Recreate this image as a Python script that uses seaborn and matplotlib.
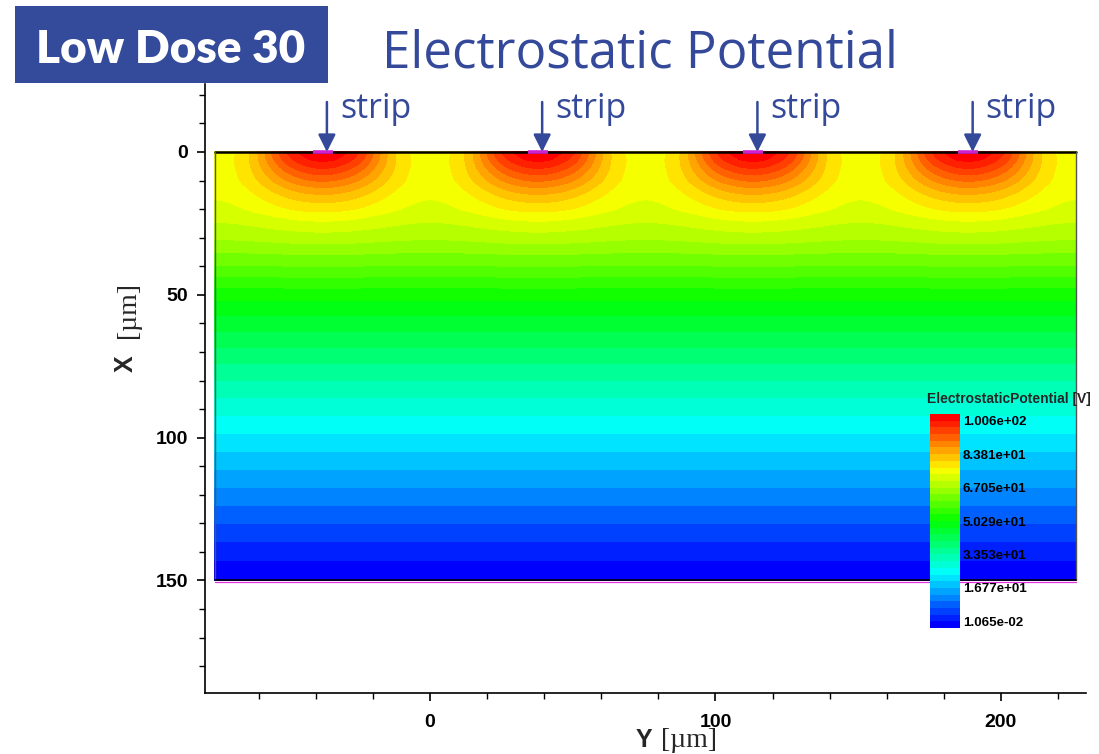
import numpy as np
import matplotlib
matplotlib.use("Agg")
import matplotlib.pyplot as plt
from matplotlib.colors import ListedColormap, BoundaryNorm
from matplotlib.patches import Rectangle
from matplotlib.ticker import MultipleLocator
import seaborn as sns

# ---------------- data ----------------
# potential along the mid-gap line between two strips, versus depth
depth_um = [0, 10, 20, 30, 40, 50, 60, 70, 80, 90, 100, 110, 120, 130, 140, 150]
midgap_potential_V = [75.0, 74.0, 71.5, 66.5, 59.5, 51.5, 45.5, 40.0, 34.5,
                      29.5, 24.5, 19.5, 14.5, 9.5, 4.5, 0.0]
# extra potential directly below a strip, relative to the mid-gap line
excess_depth_um = [0, 2.5, 5, 7.5, 10, 12.5, 15, 17.5, 20, 22.5, 25, 27.5, 30, 35, 40, 50]
strip_excess_V = [25.6, 23.8, 20.9, 17.6, 14.4, 11.4, 8.8, 6.7, 5.0, 3.6, 2.6,
                  1.8, 1.3, 0.6, 0.25, 0.0]
# lateral fall-off of that excess along the surface (fraction vs distance to strip centre)
lateral_um = [0, 4, 9, 13, 17, 20, 22.7, 26, 30, 33, 37.7]
lateral_fraction = [1.0, 0.97, 0.875, 0.754, 0.56, 0.40, 0.262, 0.12, 0.016, 0.0, 0.0]
strip_centers_um = [-37.6, 37.8, 113.2, 188.6]
strip_width_um = 7.0
strip_potential_V = 100.6
backside_potential_V = 1.065e-2
device_y_um = [-75.3, 226.3]
device_thickness_um = 150.0
legend_labels = ["1.006e+02", "8.381e+01", "6.705e+01", "5.029e+01",
                 "3.353e+01", "1.677e+01", "1.065e-02"]
legend_title = "ElectrostaticPotential [V]"
n_bands = 32
rainbow_anchors = ["#0000ff", "#00ffff", "#00ff00", "#ffff00", "#ff0000"]
x_major = [0, 100, 200]
y_major = [0, 50, 100, 150]

# ---------------- style ----------------
sns.set_style("ticks")
plt.rcParams.update({
    "font.family": ["Liberation Sans", "DejaVu Sans"],
    "axes.edgecolor": "black",
    "axes.linewidth": 1.2,
    "xtick.color": "black",
    "ytick.color": "black",
})
INK = "#34499a"
BADGE = "#344b9b"
W, H = 1099, 754


def fx(px):
    return px / W


def fy(py):
    return 1 - py / H


# ---------------- potential field ----------------
pitch = np.diff(strip_centers_um).mean()
q = 2 * np.pi / pitch
yy = np.linspace(device_y_um[0], device_y_um[1], 1400)
xx = np.linspace(0, device_thickness_um, 760)
Y, X = np.meshgrid(yy, xx)
# distance to the nearest strip centre (periodic arrangement)
d = np.abs(np.mod(Y - strip_centers_um[0] + pitch / 2, pitch) - pitch / 2)
surface_shape = np.interp(d, lateral_um, lateral_fraction)
smooth_shape = 0.5 * (1 + np.cos(q * d))
w = np.exp(-X / 8.0)  # sharp lateral shape near the surface, smoother deeper down
shape = w * surface_shape + (1 - w) * smooth_shape
V = (np.interp(X, depth_um, midgap_potential_V)
     + np.interp(X, excess_depth_um, strip_excess_V) * shape)
levels = np.linspace(backside_potential_V, strip_potential_V, n_bands + 1)
V = np.clip(V, levels[0], levels[-1] - 1e-6)
palette = sns.blend_palette(rainbow_anchors, n_colors=n_bands)
cmap = ListedColormap(palette)
norm = BoundaryNorm(levels, n_bands)

# ---------------- figure ----------------
fig = plt.figure(figsize=(W / 100, H / 100), dpi=100)
ax = fig.add_axes([fx(205), fy(693), fx(1086) - fx(205), fy(84) - fy(693)])
ax.contourf(Y, X, V, levels=levels, cmap=cmap, norm=norm, antialiased=False, zorder=1)

y0, y1 = device_y_um
ax.plot([y0, y1], [0, 0], color="black", lw=1.8, zorder=3)
ax.plot([y0, y0], [0, device_thickness_um], color="#555555", lw=1.0, zorder=3)
ax.plot([y1, y1], [0, device_thickness_um], color="#555555", lw=1.0, zorder=3)
ax.plot([y0, y1], [device_thickness_um] * 2, color="black", lw=1.2, zorder=3)
ax.plot([y0, y1], [device_thickness_um + 0.45] * 2, color="#e030e0", lw=0.9, zorder=3)
for s in strip_centers_um:
    ax.plot([s - strip_width_um / 2, s + strip_width_um / 2], [0, 0],
            color="#d020d0", lw=2.6, solid_capstyle="butt", zorder=4)
    ax.annotate("", xy=(s + 1.5, 0), xytext=(s + 1.5, -17.5),
                arrowprops=dict(arrowstyle="-|>,head_length=0.7,head_width=0.35",
                                mutation_scale=15, lw=1.8, color=INK,
                                shrinkA=0, shrinkB=0),
                annotation_clip=False, zorder=5)
    ax.text(s + 6.1, -11.9, "strip", ha="left", va="baseline", fontsize=24.4,
            color=INK, family=["Open Sans", "DejaVu Sans"])

ax.set_xlim(-78.8, 229.8)
ax.set_ylim(189.4, -23.8)
ax.set_xticks(x_major)
ax.set_yticks(y_major)
ax.xaxis.set_minor_locator(MultipleLocator(20))
ax.yaxis.set_minor_locator(MultipleLocator(10))
ax.tick_params(which="major", direction="out", length=6, width=1.2, labelsize=14)
ax.tick_params(which="minor", direction="out", length=4, width=1.0)
ax.tick_params(axis="x", which="major", pad=9)
ax.tick_params(axis="y", which="major", pad=6)
for lab in ax.get_xticklabels() + ax.get_yticklabels():
    lab.set_fontweight("bold")
sns.despine(ax=ax)

# axis titles: bold letter followed by a serif unit
fig.text(fx(636), fy(747), "Y", fontsize=18, fontweight="bold", ha="left", va="baseline")
fig.text(fx(661), fy(747), "[µm]", fontsize=20, family="Liberation Serif",
         ha="left", va="baseline")
fig.text(fx(138), fy(372), "X", fontsize=18, fontweight="bold", rotation=90,
         ha="right", va="bottom")
fig.text(fx(141), fy(338), "[µm]", fontsize=20, family="Liberation Serif",
         rotation=90, ha="right", va="bottom")

# ---------------- legend bar ----------------
cax = fig.add_axes([fx(930), fy(628), fx(960) - fx(930), fy(414) - fy(628)])
band_values = (0.5 * (levels[:-1] + levels[1:]))[::-1].reshape(-1, 1)
sns.heatmap(band_values, cmap=cmap, norm=norm, cbar=False, ax=cax,
            xticklabels=False, yticklabels=False)
cax.set_yticks([1 + 5 * i for i in range(len(legend_labels))])
cax.set_yticklabels(legend_labels, fontsize=9.6, fontweight="bold")
cax.yaxis.tick_right()
cax.tick_params(axis="y", length=0, pad=2, labelrotation=0)
cax.set_xticks([])
fig.text(fx(927), fy(399), legend_title, fontsize=10, fontweight="bold",
         ha="left", va="center")

# ---------------- headings ----------------
fig.add_artist(Rectangle((fx(15), fy(83)), fx(328) - fx(15), fy(6) - fy(83),
                         transform=fig.transFigure, facecolor=BADGE,
                         edgecolor="none", zorder=10))
fig.text(fx(171), fy(63), "Low Dose 30", color="white", fontsize=33,
         fontweight="heavy", family=["Lato", "DejaVu Sans"], ha="center",
         va="baseline", zorder=11)
fig.text(fx(640), fy(67), "Electrostatic Potential", color=INK, fontsize=36.8,
         family=["Open Sans", "DejaVu Sans"], ha="center", va="baseline")

fig.savefig("out.png", dpi=100)
